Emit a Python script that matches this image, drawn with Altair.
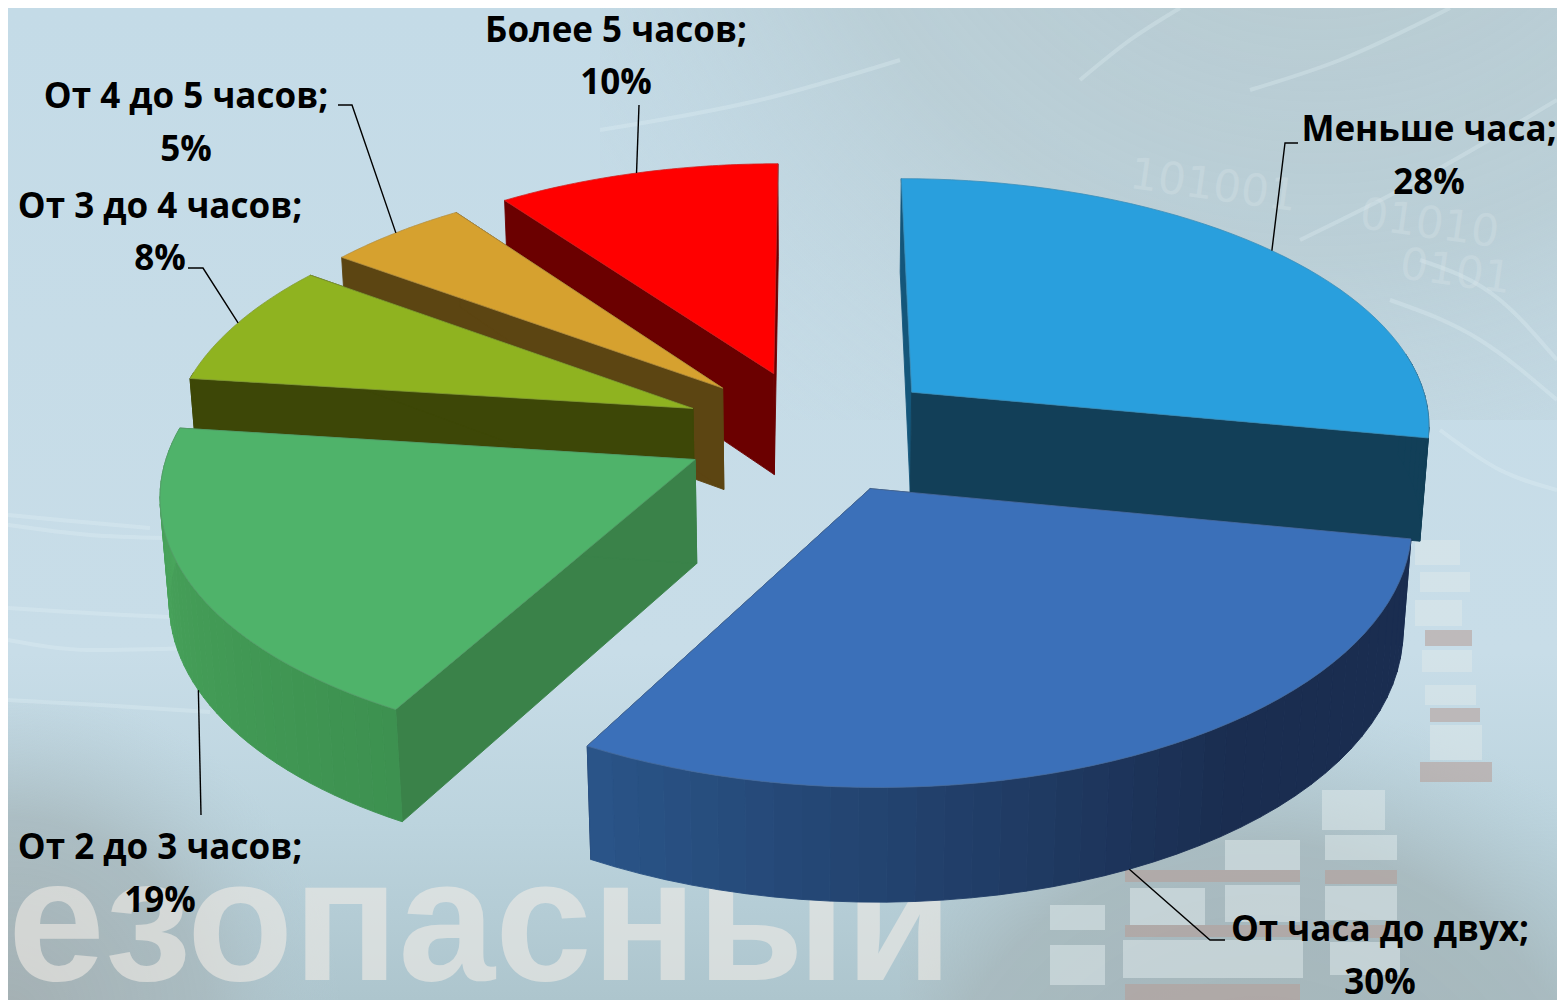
import math
import altair as alt
import pandas as pd

# ---- chart values
LABELS = ["Меньше часа;", "От часа до двух;", "От 2 до 3 часов;",
          "От 3 до 4 часов;", "От 4 до 5 часов;", "Более 5 часов;"]
SHARES = [28, 30, 19, 8, 5, 10]

# ---- styles
TOP = ["#299fdd", "#3b70b9", "#4fb36a", "#8fb320", "#d6a12f", "#ff0000"]
CUT_A = ["#14567a", "#1c3358", "#3a8249", "#3d4707", "#5c4512", "#6b0000"]
CUT_B = ["#123f58", "#1c3358", "#3a8249", "#3d4707", "#5c4512", "#6b0000"]
WALL_A = ["#123f58", "#1a2d50", "#3d9150", "#3d4707", "#5c4512", "#6b0000"]
WALL_B = ["#123f58", "#2a5589", "#4aa75d", "#3d4707", "#5c4512", "#6b0000"]
DRAW_ORDER = [0, 5, 4, 3, 2, 1]

# ---- label layout
LABEL_X = [1429, 1380, 160, 160, 186, 616]
LINE1_Y = [130, 930, 848, 207, 97, 31]
LINE2_Y = [183, 983, 901, 259, 150, 83]
ELBOW_DX = [-144, -170, 41, 43, 166, 23]
ELBOW_DY = [13, 10, -33, 61, 8, 74]
TAIL_DX = [-131, -155, 41, 28, 152, 23]
RIM_LOWER = [False, True, True, False, False, False]

# ---- projection
S, CX, CY, K, P, H, Q, EXPLODE = 522, 813, 431, 0.475, 0.12, 0.2, 0.07, 0.25
W, HT = 1549, 992


def project(x, y, z=0.0):
    w = 1 + P * y - Q * z
    return CX + S * x / w, CY - S * K * y / w - S * z / w


def slice_pt(i, a, r=1.0, z=0.0):
    x = EXPLODE * math.sin(MID[i]) + r * math.sin(a)
    y = EXPLODE * math.cos(MID[i]) + r * math.cos(a)
    return project(x, y, z)


total = sum(SHARES)
START, END, MID = [], [], []
acc = 0
for v in SHARES:
    START.append(2 * math.pi * acc / total)
    acc += v
    END.append(2 * math.pi * acc / total)
    MID.append((START[-1] + END[-1]) / 2)


def mix(c1, c2, t):
    a = [int(c1[k:k + 2], 16) for k in (1, 3, 5)]
    b = [int(c2[k:k + 2], 16) for k in (1, 3, 5)]
    return "#%02x%02x%02x" % tuple(round(p + (q - p) * t) for p, q in zip(a, b))


XS = alt.Scale(domain=[8, 8 + W], nice=False, zero=False)
YS = alt.Scale(domain=[8 + HT, 8], nice=False, zero=False)
X = alt.X("x:Q", scale=XS, axis=None)
Y = alt.Y("y:Q", scale=YS, axis=None)


def poly(points, color, stroke=None, sw=0.9):
    rows = [{"x": p[0], "y": p[1], "o": k} for k, p in enumerate(points + points[:1])]
    return alt.Chart(pd.DataFrame(rows)).mark_line(
        fill=color, stroke=stroke or color, strokeWidth=sw, interpolate="linear",
        clip=True, fillOpacity=1,
    ).encode(x=X, y=Y, order="o:Q")


def rects(x, x2, y, y2, c, opacity):
    return (
        alt.Chart(pd.DataFrame({"x": x, "x2": x2, "y": y, "y2": y2, "c": c}))
        .mark_rect(opacity=opacity, clip=True)
        .encode(x=alt.X("x:Q", scale=XS, axis=None), x2="x2:Q",
                y=alt.Y("y:Q", scale=YS, axis=None), y2="y2:Q",
                color=alt.Color("c:N", scale=None))
    )


def fill_rect(x, x2, y, y2, gradient):
    return (
        alt.Chart(pd.DataFrame({"x": [x], "x2": [x2], "y": [y], "y2": [y2]}))
        .mark_rect(color=gradient)
        .encode(x=alt.X("x:Q", scale=XS, axis=None), x2="x2:Q",
                y=alt.Y("y:Q", scale=YS, axis=None), y2="y2:Q")
    )


def stops(*pairs):
    return [alt.GradientStop(offset=o, color=c) for o, c in pairs]


layers = []
# backdrop
layers.append(fill_rect(8, 8 + W, 8, 8 + HT, alt.Gradient(
    gradient="linear", x1=0, y1=0, x2=0, y2=1,
    stops=stops((0, "#c4dbe7"), (0.65, "#c8dde8"), (0.82, "#bcd4de"), (1, "#adc5cd")))))
layers.append(fill_rect(600, 8 + W, 8, 420, alt.Gradient(
    gradient="radial", x1=0.75, y1=0, x2=0.75, y2=0, r1=0, r2=1,
    stops=stops((0, "#b6c9cfff"), (0.55, "#b8ccd3cc"), (1, "#c4dbe700")))))
layers.append(fill_rect(8, 340, 700, 8 + HT, alt.Gradient(
    gradient="radial", x1=0, y1=1, x2=0, y2=1, r1=0, r2=1,
    stops=stops((0, "#a4b0b3ff"), (0.6, "#a9babfdd"), (1, "#b5cbd400")))))
layers.append(fill_rect(900, 8 + W, 720, 8 + HT, alt.Gradient(
    gradient="radial", x1=0.55, y1=1, x2=0.55, y2=1, r1=0, r2=0.75,
    stops=stops((0, "#a3b3b7ff"), (0.7, "#a8babfee"), (1, "#b5cdd600")))))

# pale streaks of the backdrop photo
STREAKS = [
    [(8, 515), (60, 520), (150, 528)], [(8, 525), (90, 535), (165, 538)],
    [(8, 608), (70, 612), (190, 618)], [(8, 640), (90, 650), (195, 648)],
    [(8, 700), (100, 705), (210, 712)], [(1390, 300), (1480, 340), (1557, 400)],
    [(1300, 240), (1400, 190), (1557, 100)], [(1250, 90), (1340, 60), (1450, 8)],
    [(1080, 80), (1130, 40), (1180, 8)], [(1420, 260), (1500, 300), (1557, 360)],
    [(600, 130), (760, 100), (900, 60)], [(1440, 430), (1500, 470), (1557, 490)],
]
for line in STREAKS:
    rows = [{"x": p[0], "y": p[1], "o": k} for k, p in enumerate(line)]
    layers.append(alt.Chart(pd.DataFrame(rows))
                  .mark_line(color="#e6f3f8", strokeWidth=4, opacity=0.28, interpolate="monotone", clip=True)
                  .encode(x=X, y=Y, order="o:Q"))

# faint digits of the backdrop photo
layers.append(
    alt.Chart(pd.DataFrame({"x": [1130, 1360, 1400], "y": [175, 215, 265],
                            "t": ["101001", "01010", "0101"]}))
    .mark_text(font="DejaVu Sans", fontSize=44, align="left", baseline="middle",
               color="#dbe6ea", opacity=0.3, angle=8)
    .encode(x=X, y=Y, text="t:N")
)

# faint server racks of the backdrop photo
PALE = "#dde8e9"
RED = "#b69c95"
BACK = [
    (1415, 1460, 540, 565, PALE), (1420, 1470, 572, 592, PALE), (1415, 1462, 600, 626, PALE),
    (1425, 1472, 630, 646, RED), (1422, 1472, 650, 672, PALE), (1425, 1476, 685, 705, PALE),
    (1430, 1480, 708, 722, RED), (1430, 1482, 725, 760, PALE), (1420, 1492, 762, 782, RED),
    (1322, 1385, 790, 830, PALE), (1325, 1397, 835, 860, PALE), (1325, 1397, 870, 884, RED),
    (1325, 1397, 886, 920, PALE), (1325, 1397, 925, 938, RED), (1330, 1400, 942, 975, PALE),
    (1225, 1300, 840, 870, PALE), (1225, 1300, 885, 922, PALE), (1125, 1300, 870, 882, RED),
    (1130, 1205, 888, 925, PALE), (1123, 1303, 940, 978, PALE), (1125, 1300, 925, 937, RED),
    (1050, 1105, 945, 985, PALE), (1125, 1300, 984, 1000, RED), (1050, 1105, 905, 930, PALE),
]
layers.append(rects([b[0] for b in BACK], [b[1] for b in BACK], [b[2] for b in BACK],
                    [b[3] for b in BACK], [b[4] for b in BACK], 0.55))

# watermark word
layers.append(
    alt.Chart(pd.DataFrame({"x": [8], "y": [980], "t": ["езопасный"]}))
    .mark_text(font="Liberation Sans", fontWeight="bold", fontSize=174, align="left",
               baseline="alphabetic", color="#f1ece6", opacity=0.6)
    .encode(x=X, y=Y, text="t:N")
)

# slices, far to near
STEPS = 40
for i in DRAW_ORDER:
    a0, a1 = START[i], END[i]
    d = -H
    for ang, col in ((a0, CUT_A[i]), (a1, CUT_B[i])):
        layers.append(poly([slice_pt(i, 0, 0), slice_pt(i, ang), slice_pt(i, ang, 1, d), slice_pt(i, 0, 0, d)], col))
    for s in range(STEPS):
        t0 = a0 + (a1 - a0) * s / STEPS
        t1 = a0 + (a1 - a0) * (s + 1) / STEPS
        t = (s + 0.5) / STEPS
        if i == 1:
            t = max(0.0, t - 0.4) / 0.6
        if math.cos((t0 + t1) / 2) < 0.15:
            layers.append(poly([slice_pt(i, t0), slice_pt(i, t1), slice_pt(i, t1, 1, d), slice_pt(i, t0, 1, d)],
                               mix(WALL_A[i], WALL_B[i], t)))
    pts = [slice_pt(i, 0, 0)] + [slice_pt(i, a0 + (a1 - a0) * s / 48) for s in range(49)]
    layers.append(poly(pts, TOP[i], stroke=mix(TOP[i], "#666666", 0.3), sw=0.8))

# leader lines: from the rim at the slice's middle to the label
for i in range(6):
    rim = slice_pt(i, MID[i], 1, -H if RIM_LOWER[i] else 0)
    elbow = (LABEL_X[i] + ELBOW_DX[i], LINE1_Y[i] + ELBOW_DY[i])
    tail = (LABEL_X[i] + TAIL_DX[i], LINE1_Y[i] + ELBOW_DY[i])
    rows = [{"x": p[0], "y": p[1], "o": k} for k, p in enumerate([rim, elbow, tail])]
    layers.append(alt.Chart(pd.DataFrame(rows)).mark_line(color="#000000", strokeWidth=1.4)
                  .encode(x=X, y=Y, order="o:Q"))

# text
rows = []
for i in range(6):
    rows.append({"x": LABEL_X[i], "y": LINE1_Y[i], "t": LABELS[i]})
    rows.append({"x": LABEL_X[i], "y": LINE2_Y[i], "t": f"{SHARES[i]}%"})
layers.append(
    alt.Chart(pd.DataFrame(rows))
    .mark_text(font="Open Sans", fontWeight="bold", fontSize=35, align="center",
               baseline="middle", color="#000000")
    .encode(x=X, y=Y, text="t:N")
)

chart = (
    alt.layer(*layers)
    .properties(width=W, height=HT, padding=0, background="#c4dbe7",
                autosize=alt.AutoSizeParams(type="none"))
    .configure_view(stroke=None)
)
chart.save("out.html", embed_options={"renderer": "svg", "actions": False})
